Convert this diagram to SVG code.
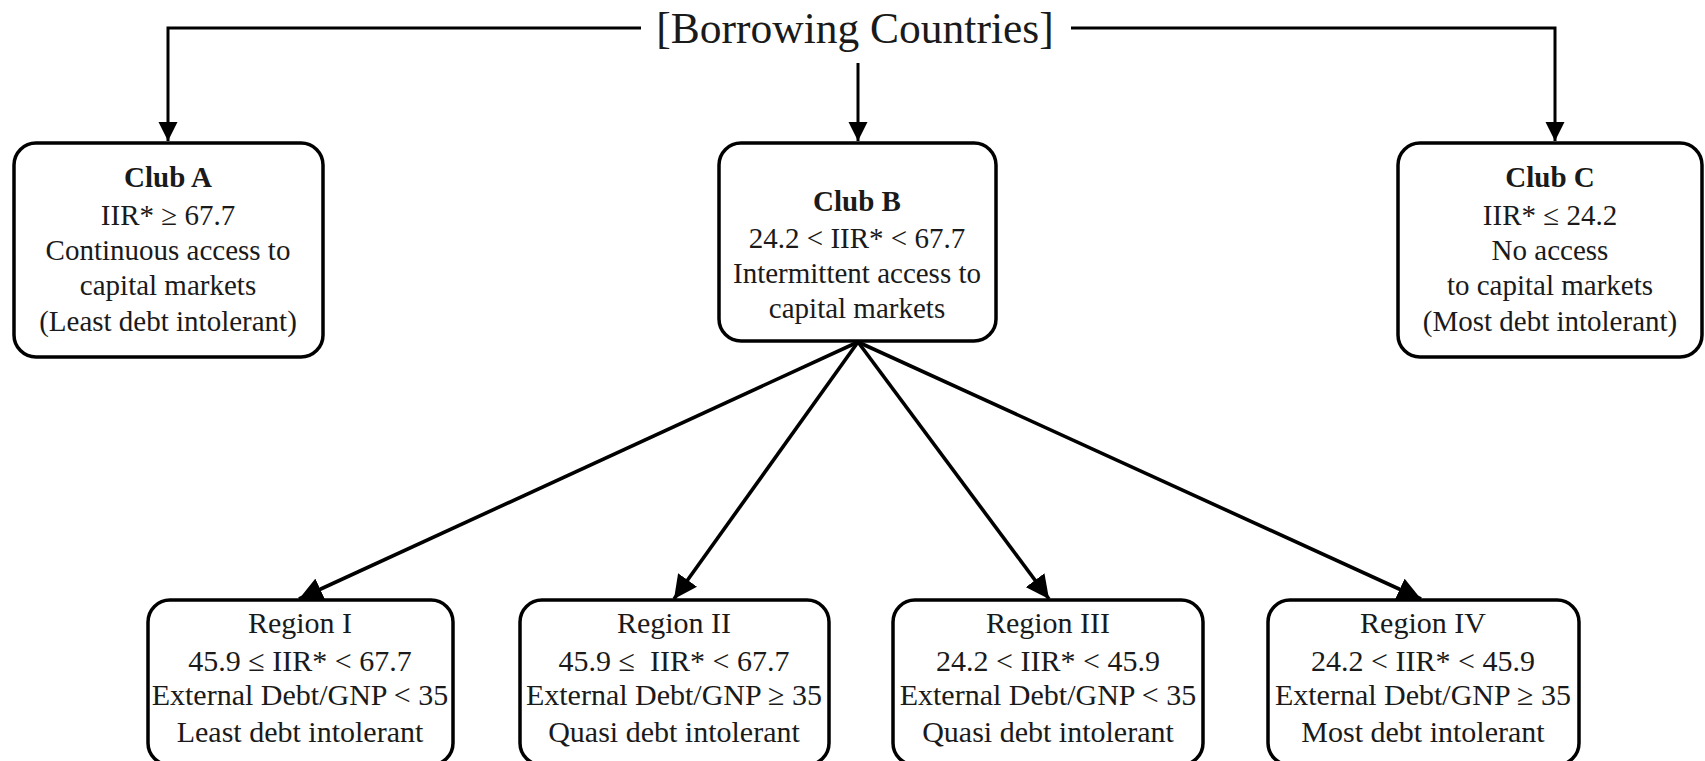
<svg xmlns="http://www.w3.org/2000/svg" width="1705" height="761" viewBox="0 0 1705 761">
<defs>
<marker id="ah" viewBox="0 0 10 10" refX="10" refY="5" markerWidth="6.5" markerHeight="6.5" markerUnits="strokeWidth" orient="auto">
<path d="M0,0 L10,5 L0,10 z" fill="#000"/>
</marker>
<style>
.box{fill:#fff;stroke:#000;stroke-width:3.5}
.t{font-family:"Liberation Serif","Times New Roman",serif;font-size:29px;fill:#1a1a1a;text-anchor:middle}
.r{font-size:30px}
.b{font-weight:bold}
.c{fill:none;stroke:#000;stroke-width:3}
.d{fill:none;stroke:#000;stroke-width:3.6}
</style>
</defs>
<rect width="1705" height="761" fill="#fff"/>
<g id="connectors">
<path class="c" d="M641,28 H168 V141" marker-end="url(#ah)"/>
<path class="c" d="M1071,28 H1555 V141" marker-end="url(#ah)"/>
<path class="c" d="M858,63 V141" marker-end="url(#ah)"/>
<path class="d" d="M858,342 L299,599" marker-end="url(#ah)"/>
<path class="d" d="M858,342 L674,599" marker-end="url(#ah)"/>
<path class="d" d="M858,342 L1049,599" marker-end="url(#ah)"/>
<path class="d" d="M858,342 L1421,599" marker-end="url(#ah)"/>
</g>
<g id="root">
<text class="t" x="855" y="43" style="font-size:43.5px">[Borrowing Countries]</text>
</g>
<g id="clubA">
<rect class="box" x="14" y="143" width="309" height="214" rx="22"/>
<text class="t b" x="168" y="187">Club A</text>
<text class="t" x="168" y="225">IIR* ≥ 67.7</text>
<text class="t" x="168" y="260">Continuous access to</text>
<text class="t" x="168" y="295">capital markets</text>
<text class="t" x="168" y="331">(Least debt intolerant)</text>
</g>
<g id="clubB">
<rect class="box" x="719" y="143" width="277" height="198" rx="22"/>
<text class="t b" x="857" y="211">Club B</text>
<text class="t" x="857" y="248">24.2 &lt; IIR* &lt; 67.7</text>
<text class="t" x="857" y="283">Intermittent access to</text>
<text class="t" x="857" y="318">capital markets</text>
</g>
<g id="clubC">
<rect class="box" x="1398" y="143" width="304" height="214" rx="22"/>
<text class="t b" x="1550" y="187">Club C</text>
<text class="t" x="1550" y="225">IIR* ≤ 24.2</text>
<text class="t" x="1550" y="260">No access</text>
<text class="t" x="1550" y="295">to capital markets</text>
<text class="t" x="1550" y="331">(Most debt intolerant)</text>
</g>
<g id="region1">
<rect class="box" x="148" y="600" width="305" height="165" rx="22"/>
<text class="t r" x="300" y="633">Region I</text>
<text class="t r" x="300" y="671">45.9 ≤ IIR* &lt; 67.7</text>
<text class="t r" x="300" y="705">External Debt/GNP &lt; 35</text>
<text class="t r" x="300" y="742">Least debt intolerant</text>
</g>
<g id="region2">
<rect class="box" x="520" y="600" width="309" height="165" rx="22"/>
<text class="t r" x="674" y="633">Region II</text>
<text class="t r" x="674" y="671" xml:space="preserve">45.9 ≤  IIR* &lt; 67.7</text>
<text class="t r" x="674" y="705">External Debt/GNP ≥ 35</text>
<text class="t r" x="674" y="742">Quasi debt intolerant</text>
</g>
<g id="region3">
<rect class="box" x="893" y="600" width="310" height="165" rx="22"/>
<text class="t r" x="1048" y="633">Region III</text>
<text class="t r" x="1048" y="671">24.2 &lt; IIR* &lt; 45.9</text>
<text class="t r" x="1048" y="705">External Debt/GNP &lt; 35</text>
<text class="t r" x="1048" y="742">Quasi debt intolerant</text>
</g>
<g id="region4">
<rect class="box" x="1268" y="600" width="311" height="165" rx="22"/>
<text class="t r" x="1423" y="633">Region IV</text>
<text class="t r" x="1423" y="671">24.2 &lt; IIR* &lt; 45.9</text>
<text class="t r" x="1423" y="705">External Debt/GNP ≥ 35</text>
<text class="t r" x="1423" y="742">Most debt intolerant</text>
</g>
</svg>
